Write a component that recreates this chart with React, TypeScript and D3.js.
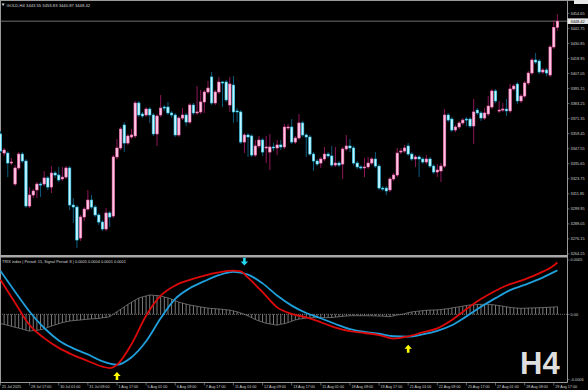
import React, { useEffect, useRef } from 'react'
import * as d3 from 'd3'

// GOLD H4 bars: [open, high, low, close]
const candles: [number, number, number, number][] = [
  [3359.2, 3361.5, 3344.1, 3345.7], [3344.1, 3348.1, 3341.8, 3346.5], [3344.1, 3345.7, 3325.1, 3336.2],
  [3336.2, 3340.2, 3334.6, 3337.0], [3319.6, 3334.6, 3318.0, 3332.3], [3332.3, 3344.9, 3330.7, 3343.3],
  [3343.3, 3344.9, 3336.2, 3337.8], [3337.8, 3339.4, 3300.6, 3302.2], [3302.2, 3317.2, 3300.6, 3310.9],
  [3310.9, 3315.6, 3308.5, 3314.1], [3314.9, 3321.2, 3308.5, 3319.6], [3319.6, 3321.2, 3309.3, 3318.8],
  [3319.6, 3329.9, 3318.0, 3324.4], [3324.4, 3326.0, 3314.9, 3317.2], [3317.2, 3333.8, 3312.5, 3328.3],
  [3328.3, 3329.9, 3324.4, 3326.7], [3326.7, 3333.1, 3321.2, 3322.8], [3323.6, 3333.1, 3322.0, 3325.1],
  [3325.1, 3333.8, 3323.6, 3332.3], [3332.3, 3333.8, 3299.0, 3303.0], [3303.0, 3308.5, 3288.8, 3301.4],
  [3301.4, 3303.0, 3269.0, 3275.3], [3276.9, 3295.1, 3274.5, 3293.5], [3293.5, 3301.4, 3290.3, 3299.8],
  [3299.8, 3314.9, 3298.2, 3306.9], [3306.9, 3310.9, 3299.8, 3301.4], [3301.4, 3303.0, 3293.5, 3295.1],
  [3295.1, 3296.7, 3287.2, 3289.5], [3289.5, 3291.1, 3282.4, 3284.0], [3284.0, 3300.6, 3282.4, 3296.7],
  [3296.7, 3298.2, 3285.6, 3293.5], [3294.3, 3342.5, 3292.7, 3341.0], [3341.0, 3355.2, 3339.4, 3348.1],
  [3348.1, 3364.7, 3346.5, 3363.1], [3366.3, 3368.6, 3344.9, 3352.0], [3352.0, 3359.2, 3350.5, 3357.6],
  [3356.8, 3363.1, 3355.2, 3358.4], [3357.6, 3385.3, 3356.0, 3383.7], [3383.7, 3385.3, 3372.6, 3374.2],
  [3375.0, 3376.6, 3371.8, 3373.4], [3374.2, 3380.5, 3372.6, 3378.9], [3378.9, 3380.5, 3367.9, 3374.2],
  [3374.2, 3375.8, 3357.6, 3359.2], [3359.2, 3375.0, 3349.7, 3373.4], [3374.2, 3390.0, 3372.6, 3379.7],
  [3380.5, 3382.1, 3377.4, 3379.7], [3380.5, 3384.5, 3374.2, 3375.8], [3375.8, 3377.4, 3371.8, 3374.2],
  [3374.2, 3375.8, 3356.8, 3358.4], [3358.4, 3373.4, 3356.8, 3371.8], [3371.8, 3379.7, 3370.2, 3374.2],
  [3374.2, 3375.8, 3365.5, 3368.6], [3368.6, 3383.7, 3367.1, 3382.1], [3382.1, 3383.7, 3374.2, 3375.8],
  [3375.8, 3397.1, 3374.2, 3376.6], [3376.6, 3394.0, 3375.0, 3384.5], [3384.5, 3394.0, 3375.8, 3392.4],
  [3392.4, 3401.1, 3390.8, 3395.5], [3404.3, 3408.2, 3382.1, 3383.7], [3383.7, 3394.0, 3382.1, 3392.4],
  [3392.4, 3404.3, 3390.8, 3400.3], [3400.3, 3401.1, 3380.5, 3399.5], [3400.3, 3401.9, 3384.5, 3386.1],
  [3382.1, 3404.3, 3376.6, 3398.7], [3397.9, 3405.0, 3367.9, 3376.6], [3377.4, 3379.7, 3368.6, 3376.6],
  [3376.6, 3378.1, 3351.2, 3352.8], [3352.8, 3359.9, 3344.1, 3358.4], [3358.4, 3359.9, 3341.0, 3356.8],
  [3357.6, 3359.2, 3341.0, 3342.5], [3342.5, 3354.4, 3341.0, 3349.7], [3349.7, 3357.6, 3348.1, 3354.4],
  [3354.4, 3356.0, 3341.8, 3344.9], [3348.1, 3357.6, 3336.2, 3348.9], [3344.9, 3359.2, 3330.7, 3348.9],
  [3348.9, 3352.0, 3345.7, 3348.1], [3348.1, 3354.4, 3342.5, 3350.5], [3350.5, 3354.4, 3346.5, 3348.9],
  [3348.9, 3367.1, 3347.3, 3364.7], [3363.9, 3367.1, 3362.3, 3364.7], [3364.7, 3371.0, 3351.2, 3352.8],
  [3352.8, 3357.6, 3351.2, 3356.0], [3356.0, 3375.0, 3354.4, 3367.9], [3367.9, 3369.4, 3356.8, 3358.4],
  [3358.4, 3359.9, 3341.0, 3356.8], [3356.8, 3358.4, 3341.8, 3343.3], [3343.3, 3344.9, 3329.9, 3337.8],
  [3337.8, 3339.4, 3333.8, 3335.4], [3336.2, 3341.0, 3332.3, 3339.4], [3339.4, 3348.9, 3337.8, 3343.3],
  [3343.3, 3344.9, 3340.2, 3341.8], [3341.8, 3349.7, 3333.1, 3334.6], [3334.6, 3348.9, 3333.1, 3336.2],
  [3336.2, 3337.8, 3333.1, 3334.6], [3335.4, 3348.9, 3323.6, 3347.3], [3347.3, 3358.4, 3345.7, 3349.7],
  [3349.7, 3355.2, 3344.9, 3348.1], [3348.1, 3349.7, 3334.6, 3336.2], [3336.2, 3337.8, 3331.5, 3333.1],
  [3333.1, 3334.6, 3330.7, 3332.3], [3332.3, 3340.2, 3325.1, 3333.1], [3333.1, 3341.0, 3331.5, 3336.2],
  [3336.2, 3341.0, 3334.6, 3339.4], [3339.4, 3344.9, 3332.3, 3333.8], [3333.8, 3335.4, 3314.9, 3316.4],
  [3316.4, 3318.0, 3314.1, 3315.6], [3316.4, 3318.0, 3310.9, 3314.1], [3314.9, 3325.1, 3313.3, 3323.6],
  [3323.6, 3328.3, 3322.0, 3326.7], [3326.7, 3348.1, 3325.1, 3344.1], [3344.9, 3348.1, 3343.3, 3345.7],
  [3345.7, 3350.5, 3344.1, 3348.1], [3349.7, 3352.0, 3341.8, 3343.3], [3343.3, 3344.9, 3337.8, 3339.4],
  [3339.4, 3342.5, 3333.1, 3341.0], [3341.0, 3342.5, 3325.1, 3339.4], [3339.4, 3341.0, 3335.4, 3337.0],
  [3337.0, 3342.5, 3335.4, 3339.4], [3339.4, 3341.0, 3332.3, 3333.8], [3333.8, 3335.4, 3327.5, 3329.1],
  [3329.1, 3335.4, 3325.1, 3330.7], [3329.9, 3336.2, 3321.2, 3333.8], [3333.8, 3378.9, 3332.3, 3374.2],
  [3374.2, 3375.8, 3368.6, 3370.2], [3371.0, 3372.6, 3360.7, 3362.3], [3362.3, 3366.3, 3360.7, 3364.7],
  [3364.7, 3369.4, 3363.1, 3367.9], [3367.9, 3371.8, 3366.3, 3370.2], [3371.0, 3372.6, 3365.5, 3370.2],
  [3371.0, 3372.6, 3363.9, 3365.5], [3365.5, 3386.9, 3351.2, 3376.6], [3378.1, 3379.7, 3374.2, 3375.8],
  [3375.8, 3377.4, 3369.4, 3371.8], [3371.8, 3379.7, 3370.2, 3375.8], [3375.0, 3389.2, 3373.4, 3381.3],
  [3380.5, 3394.8, 3378.9, 3393.2], [3393.2, 3394.8, 3383.7, 3385.3], [3377.4, 3385.3, 3375.8, 3378.1],
  [3378.1, 3383.7, 3376.6, 3378.9], [3378.9, 3386.9, 3373.4, 3377.4], [3377.4, 3398.7, 3375.8, 3394.8],
  [3394.8, 3398.7, 3393.2, 3397.1], [3398.7, 3400.3, 3382.9, 3385.3], [3385.3, 3390.8, 3383.7, 3389.2],
  [3389.2, 3401.1, 3387.6, 3399.5], [3399.5, 3409.0, 3397.9, 3407.4], [3407.4, 3419.3, 3405.8, 3417.7],
  [3417.7, 3423.2, 3414.5, 3416.1], [3416.9, 3418.5, 3406.6, 3408.2], [3408.2, 3411.4, 3406.6, 3409.8],
  [3409.8, 3411.4, 3405.0, 3407.4], [3405.8, 3429.6, 3404.3, 3428.0], [3428.0, 3449.3, 3426.4, 3443.5],
  [3443.55, 3453.83, 3440.87, 3448.42]
]

const symbolTitle = 'GOLD,H4'
const lastPrice = 3448.42

const priceTicks = [
  3454.65, 3442.75, 3430.85, 3418.95, 3407.05, 3395.15, 3383.25, 3371.35, 3359.45,
  3347.55, 3335.65, 3323.75, 3311.85, 3299.95, 3288.05, 3276.15, 3264.25
]

const timeLabels: [number, string][] = [
  [0, '25 Jul 2025'], [8, '28 Jul 17:00'], [16, '30 Jul 01:00'], [24, '31 Jul 09:00'],
  [32, '1 Aug 17:00'], [40, '5 Aug 01:00'], [48, '6 Aug 09:00'], [56, '7 Aug 17:00'],
  [64, '11 Aug 01:00'], [72, '12 Aug 09:00'], [80, '13 Aug 17:00'], [88, '15 Aug 01:00'],
  [96, '18 Aug 09:00'], [104, '19 Aug 17:00'], [112, '21 Aug 01:00'], [120, '22 Aug 09:00'],
  [128, '25 Aug 17:00'], [136, '27 Aug 01:00'], [144, '28 Aug 09:00'], [152, '29 Aug 17:00']
]

// TRIX pane, values in units of 0.00001, [bar, value]
const trixLine: [number, number][] = [
  [0, 31.8], [4, 10.7], [8, -10], [12, -21.9], [16, -30.9], [20, -37.5], [24, -43], [28, -48.1],
  [30, -49.5], [32, -46.4], [36, -27.4], [40, -1.3], [44, 17.1], [48, 26.6], [52, 31.7], [56, 35.7],
  [60, 38.6], [64, 40.2], [66, 39.6], [68, 33.7], [72, 20.4], [76, 6.4], [80, 0.4], [84, -2.9],
  [88, -7.3], [92, -12.2], [96, -15.5], [100, -17.2], [104, -19.1], [108, -22.3], [112, -20.3],
  [116, -16.6], [120, -12.9], [124, -5.2], [128, 4.8], [132, 14], [136, 21.7], [140, 27.8],
  [144, 32.2], [148, 37.7], [152, 44.9], [153, 47.7]
]
const signalLine: [number, number][] = [
  [0, 39.9], [4, 20.8], [8, 2.4], [12, -12.6], [16, -24], [20, -31.3], [24, -36.9], [28, -43.2],
  [32, -46.4], [36, -39.5], [40, -24.8], [44, -3.6], [48, 14.2], [52, 24], [56, 30.5], [60, 36],
  [64, 39], [68, 36.6], [72, 28.5], [76, 17.3], [80, 8], [84, 1.2], [88, -3.6], [92, -8.9],
  [96, -13.6], [100, -16.2], [104, -17.9], [108, -20.2], [112, -20.6], [116, -18.4], [120, -15.2],
  [124, -10.1], [128, -1.9], [132, 6.9], [136, 14.9], [140, 22.3], [144, 27.1], [148, 32.4],
  [152, 38.8], [153, 40.5]
]
const histogram = [
  -8.5, -9.3, -10.1, -11, -11.9, -12.7, -13.6, -14.6, -15.4, -15,
  -14.7, -14.2, -13.3, -12, -10.8, -9.7, -8.6, -7.6, -6.9, -6.2,
  -5.8, -5.5, -5.2, -4.8, -4.5, -4.2, -4, -3.8, -3.2, -2.8,
  -2.1, 0.2, 2.4, 4.6, 6.8, 9.1, 11.1, 13.1, 15, 16,
  16.9, 17.8, 17.5, 17.3, 16.9, 15.9, 15.1, 14, 12.6, 11.2,
  10.3, 9.4, 8.6, 8, 7.4, 6.8, 6.3, 5.7, 5.4, 5.2,
  4.9, 4.6, 4.2, 3.9, 3.1, 2.3, 1.2, 0, -1.5, -3.1,
  -4.8, -6.1, -7.2, -8.3, -8.8, -9.4, -9.9, -9.1, -8.6, -7.6,
  -6.3, -5.2, -4.4, -4, -3.5, -3.1, -3.1, -3.1, -3.1, -3.1,
  -3.1, -2.9, -2.6, -2.2, -1.9, -1.6, -1.3, -1.3, -1.3, -1.3,
  -1.3, -1.3, -1.4, -1.5, -1.6, -1.7, -2, -2.1, -1.4, -0.6,
  -0.2, 0.5, 1.5, 2.2, 2.6, 3, 3.3, 3.7, 3.9, 4,
  4.1, 4.4, 4.9, 5.2, 5.9, 6.4, 6.9, 7.5, 8.1, 8.6,
  8.8, 9, 9.2, 9.2, 9.2, 8.9, 8.5, 8, 7.5, 6.9,
  6.4, 6, 5.7, 5.5, 5.6, 5.8, 5.9, 6, 6.1, 6.2,
  6.4, 6.5, 6.7, 7
]
const indTicks: [number, string][] = [[50, '0.0005'], [0, '0.00'], [-60, '-0.0006']]
const upArrows: [number, number][] = [[32, -53], [112, -28]]
const downArrows: [number, number][] = [[67, 45]]
const indTitle = 'TRIX index | Period: 15, Signal Period: 8 | 0.0005 0.0004 0.0001 0.0001'

const W = 588
const H = 390
const AXIS_X = 567.5
const FONT = 'Liberation Sans, Arial, sans-serif'

export default function App() {
  const ref = useRef<SVGSVGElement>(null)

  useEffect(() => {
    const svg = d3.select(ref.current)
    svg.selectAll('*').remove()

    const x = d3.scaleLinear().domain([0, candles.length - 1]).range([0.5, 0.5 + 3.64 * (candles.length - 1)])
    const y = d3.scaleLinear().domain([3264.25, 3454.65]).range([254, 13.3])
    const yi = d3.scaleLinear().domain([-60, 50]).range([379.5, 260])

    svg.append('rect').attr('width', W).attr('height', H).attr('fill', '#000')

    const defs = svg.append('defs')
    defs.append('clipPath').attr('id', 'mainClip')
      .append('rect').attr('x', 0).attr('y', 1).attr('width', AXIS_X).attr('height', 254)
    defs.append('clipPath').attr('id', 'indClip')
      .append('rect').attr('x', 0).attr('y', 257.5).attr('width', AXIS_X).attr('height', 124.5)

    // frame
    const grey = '#9a9a9a'
    svg.append('line').attr('x1', 0).attr('x2', W).attr('y1', 0.5).attr('y2', 0.5).attr('stroke', grey)
    svg.append('line').attr('x1', 0.5).attr('x2', 0.5).attr('y1', 0).attr('y2', 382.5).attr('stroke', grey)
    svg.append('line').attr('x1', AXIS_X).attr('x2', AXIS_X).attr('y1', 0).attr('y2', 382.5).attr('stroke', grey)
    svg.append('rect').attr('x', 0).attr('y', 255).attr('width', AXIS_X).attr('height', 2.5).attr('fill', '#a8a8a8')
    svg.append('line').attr('x1', 0).attr('x2', AXIS_X).attr('y1', 382.5).attr('y2', 382.5).attr('stroke', grey)
    svg.append('rect').attr('x', 574).attr('y', 0).attr('width', 14).attr('height', 4).attr('fill', '#e8e8e8')

    // price axis
    const pa = svg.append('g').attr('font-family', FONT).attr('font-size', 3.9).attr('fill', '#cfcfcf')
    priceTicks.forEach(p => {
      pa.append('line').attr('x1', AXIS_X).attr('x2', AXIS_X + 2).attr('y1', y(p)).attr('y2', y(p)).attr('stroke', grey).attr('stroke-width', 0.6)
      pa.append('text').attr('x', 570.5).attr('y', y(p) + 1.4).text(p.toFixed(2))
    })

    // bid line and label
    svg.append('line').attr('x1', 0).attr('x2', AXIS_X).attr('y1', y(lastPrice)).attr('y2', y(lastPrice))
      .attr('stroke', '#8a8a8a').attr('stroke-width', 0.8)
    svg.append('rect').attr('x', AXIS_X).attr('y', y(lastPrice) - 2.8).attr('width', 20.5).attr('height', 5.6).attr('fill', '#e6e6e6')
    svg.append('text').attr('x', 570.5).attr('y', y(lastPrice) + 1.4).attr('font-family', FONT)
      .attr('font-size', 3.9).attr('fill', '#000').text(lastPrice.toFixed(2))

    // candles
    const cg = svg.append('g').attr('clip-path', 'url(#mainClip)')
    candles.forEach((c, i) => {
      const [o, h, l, cl] = c
      const bull = cl >= o
      const cx = x(i)
      cg.append('line').attr('x1', cx).attr('x2', cx).attr('y1', y(h)).attr('y2', y(l))
        .attr('stroke', bull ? '#8e1658' : '#0e5a7a').attr('stroke-width', 1)
      const top = y(Math.max(o, cl))
      const hgt = Math.max(1, Math.abs(y(o) - y(cl)))
      cg.append('rect').attr('x', cx - 1.2).attr('y', top).attr('width', 2.4).attr('height', hgt)
        .attr('fill', bull ? '#ffc6e4' : '#c4f4ff')
        .attr('stroke', bull ? '#ff72b8' : '#2ccdf2').attr('stroke-width', 0.6)
    })

    // main header
    svg.append('path').attr('d', 'M1.6,3.6 L4.6,3.6 L3.1,6 Z').attr('fill', '#e0e0e0')
    svg.append('text').attr('x', 6.5).attr('y', 6.6).attr('font-family', FONT).attr('font-size', 4.2)
      .attr('fill', '#d8d8d8').text(symbolTitle + '  ' + candles[candles.length - 1].map(v => v.toFixed(2)).join(' '))

    // indicator pane
    const ig = svg.append('g').attr('clip-path', 'url(#indClip)')
    ig.append('line').attr('x1', 0).attr('x2', AXIS_X).attr('y1', yi(0)).attr('y2', yi(0))
      .attr('stroke', '#8a8a8a').attr('stroke-width', 0.8).attr('stroke-dasharray', '1,1')
    histogram.forEach((v, i) => {
      ig.append('line').attr('x1', x(i)).attr('x2', x(i)).attr('y1', yi(0)).attr('y2', yi(v))
        .attr('stroke', '#9c9c9c').attr('stroke-width', 0.8)
    })
    const hLine = d3.line<number>().x((d, i) => x(i)).y(d => yi(d)).curve(d3.curveMonotoneX)
    ig.append('path').attr('d', hLine(histogram)).attr('fill', 'none').attr('stroke', '#8c8c8c').attr('stroke-width', 0.7)

    const line = d3.line<[number, number]>().x(d => x(d[0])).y(d => yi(d[1])).curve(d3.curveMonotoneX)
    ig.append('path').attr('d', line(signalLine)).attr('fill', 'none').attr('stroke', '#1f9fdc').attr('stroke-width', 1.8)
    ig.append('path').attr('d', line(trixLine)).attr('fill', 'none').attr('stroke', '#dc0a0a').attr('stroke-width', 1.8)

    upArrows.forEach(([b, v]) => {
      const cx = x(b), ty = yi(v)
      ig.append('path')
        .attr('d', `M${cx},${ty} L${cx + 3.7},${ty + 4} L${cx + 1.3},${ty + 4} L${cx + 1.3},${ty + 8} L${cx - 1.3},${ty + 8} L${cx - 1.3},${ty + 4} L${cx - 3.7},${ty + 4} Z`)
        .attr('fill', '#ffff00')
    })
    downArrows.forEach(([b, v]) => {
      const cx = x(b), ty = yi(v)
      ig.append('path')
        .attr('d', `M${cx},${ty} L${cx + 3.7},${ty - 4} L${cx + 1.3},${ty - 4} L${cx + 1.3},${ty - 8} L${cx - 1.3},${ty - 8} L${cx - 1.3},${ty - 4} L${cx - 3.7},${ty - 4} Z`)
        .attr('fill', '#22d8f0')
    })

    svg.append('text').attr('x', 2).attr('y', 262.6).attr('font-family', FONT).attr('font-size', 3.9)
      .attr('fill', '#d8d8d8').text(indTitle)

    const ia = svg.append('g').attr('font-family', FONT).attr('font-size', 3.9).attr('fill', '#cfcfcf')
    indTicks.forEach(([v, t]) => {
      ia.append('line').attr('x1', AXIS_X).attr('x2', AXIS_X + 2).attr('y1', yi(v)).attr('y2', yi(v)).attr('stroke', grey).attr('stroke-width', 0.6)
      ia.append('text').attr('x', 570.5).attr('y', yi(v) + 1.4).text(t)
    })

    // time axis
    const ta = svg.append('g').attr('font-family', FONT).attr('font-size', 3.7).attr('fill', '#cfcfcf')
    timeLabels.forEach(([b, t]) => {
      ta.append('line').attr('x1', x(b)).attr('x2', x(b)).attr('y1', 382.5).attr('y2', 385.5).attr('stroke', grey).attr('stroke-width', 0.6)
      ta.append('text').attr('x', x(b) + 1.5).attr('y', 388).text(t)
    })

    // timeframe watermark
    svg.append('text').attr('x', 520).attr('y', 374).attr('font-family', FONT).attr('font-weight', 'bold')
      .attr('font-size', 31).attr('fill', '#dedede').text('H4')
  }, [])

  return (
    <div style={{ position: 'absolute', left: 0, top: 0 }}>
      <svg ref={ref} width={W} height={H} style={{ display: 'block' }} />
    </div>
  )
}
